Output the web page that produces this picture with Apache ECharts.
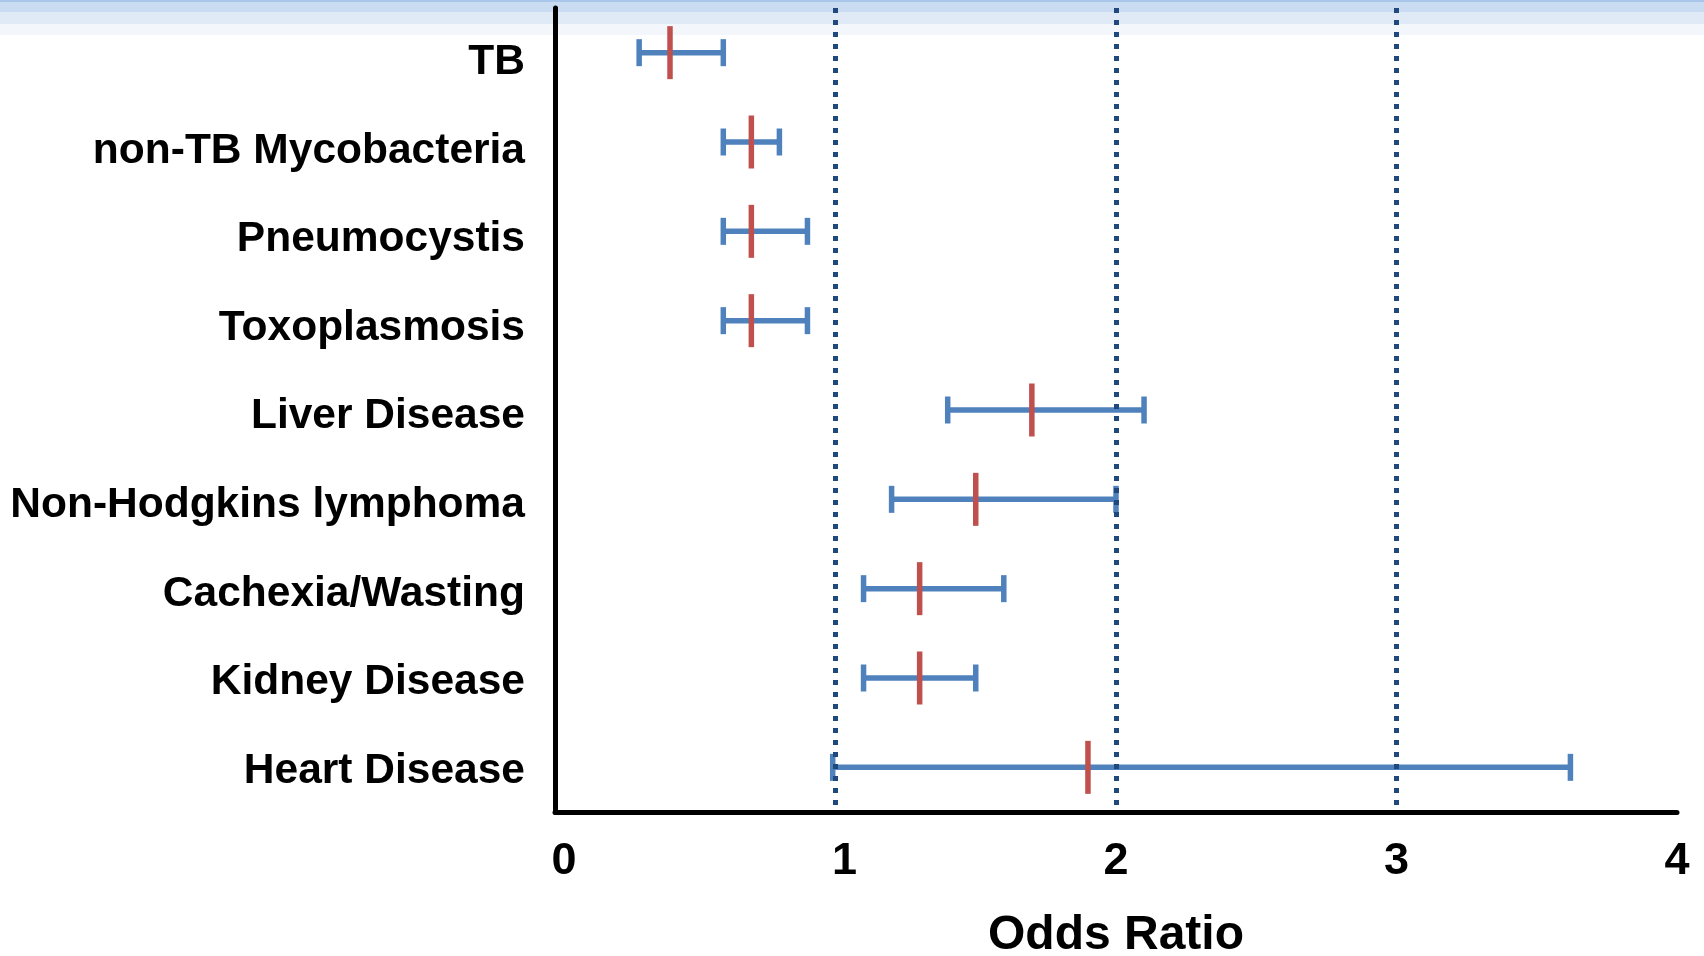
<!DOCTYPE html>
<html>
<head>
<meta charset="utf-8">
<title>Odds Ratio</title>
<script src="https://cdn.jsdelivr.net/npm/echarts@6/dist/echarts.min.js"></script>
<style>
html,body{margin:0;padding:0;background:#fff;}
#chart{width:1704px;height:956px;}
</style>
</head>
<body>
<div id="chart"></div>
<script>

const categories = ["TB","non-TB Mycobacteria","Pneumocystis","Toxoplasmosis","Liver Disease","Non-Hodgkins lymphoma","Cachexia/Wasting","Kidney Disease","Heart Disease"]
const oddsRatio = [0.41,0.70,0.70,0.70,1.70,1.50,1.30,1.30,1.90]
const ciLow = [0.30,0.60,0.60,0.60,1.40,1.20,1.10,1.10,0.99]
const ciHigh = [0.60,0.80,0.90,0.90,2.10,2.00,1.60,1.50,3.62]
const refLines = [1,2,3]

const font = "'Liberation Sans', Arial, sans-serif"
const blue = "#4f81bd"
const red = "#c0504d"
const navy = "#1f497d"

// [index, low, high, odds ratio]
const data = categories.map((c,i)=>[i,ciLow[i],ciHigh[i],oddsRatio[i]])

// labels sit a little below their rows near the top, level at the bottom
const labelRich = {}
categories.forEach((c,i)=>{
  labelRich["c"+i] = {fontFamily:font,fontWeight:"bold",fontSize:42.5,color:"#000",padding:[20-13*i/8,0,0,0]}
})

const chart = echarts.init(document.getElementById("chart"))

chart.setOption({
  animation:false,
  graphic:[
    {type:"rect",left:0,top:0,z:-10,shape:{width:1704,height:12},style:{fill:"#c9dcf2"}},
    {type:"rect",left:0,top:12,z:-10,shape:{width:1704,height:12},style:{fill:"#dfeaf6"}},
    {type:"rect",left:0,top:24,z:-10,shape:{width:1704,height:11},style:{fill:"#f3f7fc"}},
    {type:"rect",left:0,top:0,z:-9,shape:{width:1704,height:2},style:{fill:"#aac6ea"}}
  ],
  grid:{left:555,right:27,top:8,bottom:144,outerBoundsMode:"none",containLabel:false},
  xAxis:{
    type:"value",
    min:0,
    max:4,
    interval:1,
    z:10,
    name:"Odds Ratio",
    nameLocation:"middle",
    nameGap:100,
    nameTextStyle:{fontFamily:font,fontWeight:"bold",fontSize:48,color:"#000"},
    axisLine:{show:true,lineStyle:{color:"#000",width:5}},
    axisTick:{show:false},
    splitLine:{
      show:true,
      lineStyle:{
        color:[0,1,2,3,4].map(v=>refLines.includes(v)?navy:"rgba(0,0,0,0)"),
        width:5,
        type:[5,7]
      }
    },
    axisLabel:{
      fontFamily:font,fontWeight:"bold",fontSize:45,color:"#000",margin:27,
      formatter:v=>v<=1?"{s|"+v+"}":"{n|"+v+"}",
      rich:{
        s:{fontFamily:font,fontWeight:"bold",fontSize:45,color:"#000",padding:[0,0,0,18]},
        n:{fontFamily:font,fontWeight:"bold",fontSize:45,color:"#000"}
      }
    }
  },
  yAxis:{
    type:"category",
    data:categories,
    inverse:true,
    z:11,
    axisLine:{show:true,lineStyle:{color:"#000",width:5}},
    axisTick:{show:false},
    splitLine:{show:false},
    axisLabel:{
      margin:30,
      formatter:(v,i)=>"{c"+i+"|"+v+"}",
      rich:labelRich
    }
  },
  series:[{
    type:"custom",
    data:data,
    encode:{y:0,x:[1,2,3]},
    z:2,
    renderItem:function(params,api){
      const lo = api.coord([api.value(1),api.value(0)])
      const hi = api.coord([api.value(2),api.value(0)])
      const mid = api.coord([api.value(3),api.value(0)])
      const y = lo[1]
      const blueStyle = {stroke:blue,lineWidth:5.5}
      return {
        type:"group",
        children:[
          {type:"line",shape:{x1:lo[0],y1:y,x2:hi[0],y2:y},style:blueStyle},
          {type:"line",shape:{x1:lo[0],y1:y-13.5,x2:lo[0],y2:y+13.5},style:blueStyle},
          {type:"line",shape:{x1:hi[0],y1:y-13.5,x2:hi[0],y2:y+13.5},style:blueStyle},
          {type:"line",shape:{x1:mid[0],y1:y-26.5,x2:mid[0],y2:y+26.5},style:{stroke:red,lineWidth:5.5}}
        ]
      }
    }
  }]
})

</script>
</body>
</html>
